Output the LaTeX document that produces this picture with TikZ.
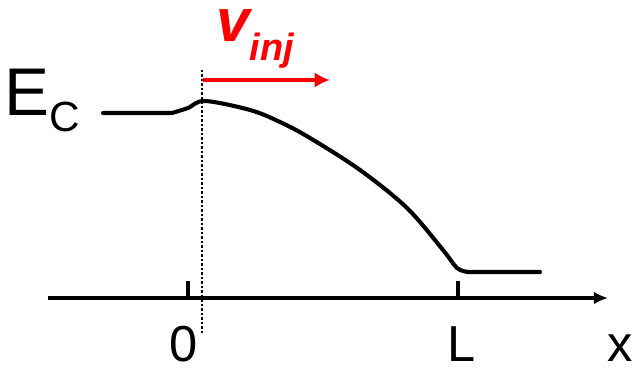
\documentclass[tikz,border=0pt]{standalone}
\usepackage{fontspec}
\setmainfont{Liberation Sans}
\definecolor{injred}{RGB}{255,0,0}
\usetikzlibrary{arrows.meta,positioning,calc}

\begin{document}
\begin{tikzpicture}[
    band/.style={line width=2.9pt, line cap=round, line join=round},
    axis/.style={line width=2.4pt, -{Latex[length=10pt,width=9pt]}},
    tick/.style={line width=2.4pt},
    lbl/.style={inner sep=0pt, anchor=base, font=\fontsize{36}{40}\selectfont},
    arrow/.style={line width=2.8pt, injred, -{Latex[length=11pt,width=11pt]}}]

    \useasboundingbox (0,0) rectangle (15.85,9.3);

    % x axis with ticks
    \coordinate (xstart) at (1.2,1.85);
    \coordinate (xend) at (15.2,1.85);
    \draw[axis] (xstart) -- (xend);
    \coordinate (t0) at (4.7,1.85);
    \coordinate (tL) at (11.45,1.85);
    \draw[tick] (t0) -- ++(0,0.43);
    \draw[tick] (tL) -- ++(0,0.43);

    \node[lbl] (zero) at (4.6,0.25) {0};
    \node[lbl] (len) at (11.53,0.25) {L};
    \node[lbl] (xlab) at (15.5,0.25) {x};

    % injection plane
    \coordinate (top) at (5.05,7.55);
    \coordinate (bot) at (5.05,0.95);
    \draw[line width=1.8pt, dash pattern=on 1.6pt off 1.6pt] (top) -- (bot);

    % conduction band
    \node[inner sep=0pt, anchor=base west, font=\fontsize{48}{50}\selectfont] (ec) at (0.1,6.4)
        {E\raisebox{-11pt}{\fontsize{30}{31}\selectfont C}};
    \draw[band] (2.575,6.475) -- (4.3,6.475)
        plot[smooth, tension=0.55] coordinates {(4.3,6.475) (4.7,6.6) (5.125,6.775) (6.25,6.55) (7.0,6.25)
            (7.75,5.85) (9.0,5.05) (10.175,4.1) (11.075,3.05) (11.425,2.6) (11.7,2.5)}
        -- (13.5,2.5);

    % injection velocity
    \coordinate (vstart) at (5.075,7.3);
    \coordinate (vend) at (8.25,7.3);
    \draw[arrow] (vstart) -- (vend);
    \node[inner sep=0pt, anchor=base west, text height=0.82cm, injred,
          font=\fontsize{43}{44}\bfseries\itshape\selectfont] (vinj) at (5.4,8.25)
        {v\raisebox{-13pt}{\fontsize{27}{28}\selectfont inj}};
\end{tikzpicture}
\end{document}
